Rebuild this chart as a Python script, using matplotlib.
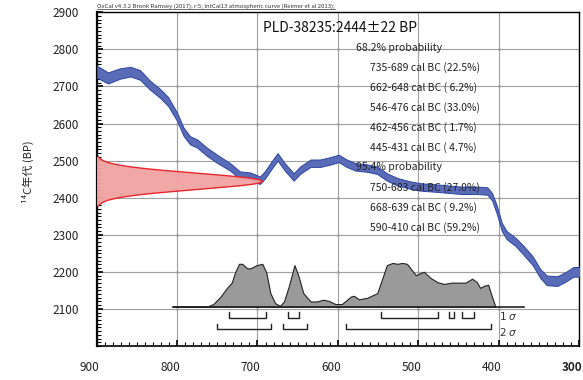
import numpy as np
import matplotlib
matplotlib.use("Agg")
import matplotlib.pyplot as plt
from matplotlib.ticker import MultipleLocator
from matplotlib.transforms import ScaledTranslation
from matplotlib.lines import Line2D

plt.rcParams['font.family'] = ['Noto Sans CJK JP', 'DejaVu Sans']

# --- calibration curve (IntCal13 segment), cal BC vs 14C BP with 1-sigma ---
curve_bc = [900, 886, 871, 858, 846, 834, 821, 811, 800, 792, 784, 775, 763, 751,
            734, 722, 709, 697, 691, 684, 675, 666, 655, 647, 634, 622, 610, 599,
            589, 578, 564, 551, 539, 526, 510, 497, 473, 447, 427, 414, 408, 402,
            396, 390, 379, 369, 358, 348, 340, 327, 317, 307, 298]
curve_bp = [2740, 2723, 2735, 2740, 2731, 2704, 2681, 2659, 2618, 2578, 2555, 2546,
            2524, 2506, 2483, 2461, 2458, 2447, 2461, 2483, 2510, 2483, 2456, 2474,
            2493, 2493, 2499, 2506, 2493, 2483, 2480, 2474, 2456, 2443, 2434, 2429,
            2425, 2420, 2420, 2418, 2402, 2366, 2321, 2299, 2281, 2258, 2231, 2195,
            2177, 2175, 2186, 2200, 2200]
curve_err = [16, 15, 14, 13, 13, 12, 12, 12, 11, 11, 11, 11, 11, 11,
             10, 10, 10, 10, 10, 10, 10, 10, 10, 10, 10, 10, 10, 10,
             10, 10, 10, 10, 10, 10, 10, 10, 10, 10, 10, 10, 10, 11,
             11, 11, 11, 12, 12, 12, 13, 13, 13, 13, 13]

# --- radiocarbon measurement ---
meas_bp = 2444
meas_err = 22

# --- calibrated probability distribution (relative) ---
dist_bc = [805, 763, 755, 746, 738, 732, 728, 723, 719, 713, 709, 701, 694, 689,
           684, 678, 672, 667, 661, 654, 649, 643, 634, 626, 618, 611, 603, 595,
           584, 580, 574, 564, 551, 545, 539, 532, 526, 520, 514, 503, 498, 493,
           485, 476, 468, 458, 449, 441, 433, 427, 423, 418, 413, 409, 404]
dist_prob = [0, 0, 0.06, 0.23, 0.43, 0.55, 0.78, 0.98, 0.98, 0.88, 0.875, 0.95, 0.98,
             0.78, 0.31, 0.08, 0.02, 0.12, 0.47, 0.95, 0.70, 0.31, 0.12, 0.12, 0.16,
             0.13, 0.06, 0.06, 0.23, 0.25, 0.17, 0.20, 0.31, 0.63, 0.95, 1.0, 0.98,
             1.0, 0.98, 0.72, 0.76, 0.8, 0.66, 0.56, 0.52, 0.55, 0.55, 0.55, 0.64,
             0.56, 0.43, 0.48, 0.5, 0.27, 0]
dist_span = (805, 369)

# --- calibrated ranges (from, to, percent) ---
ranges_1s = [(735, 689, 22.5), (662, 648, 6.2), (546, 476, 33.0),
             (462, 456, 1.7), (445, 431, 4.7)]
ranges_2s = [(750, 683, 27.0), (668, 639, 9.2), (590, 410, 59.2)]

header = "OxCal v4.3.2 Bronk Ramsey (2017); r:5; IntCal13 atmospheric curve (Reimer et al 2013);"
x_ticks = [900, 800, 700, 600, 500, 400, 300]
y_ticks = [2100, 2200, 2300, 2400, 2500, 2600, 2700, 2800, 2900]

fig = plt.figure(figsize=(5.83, 3.80), dpi=100)
ax = fig.add_axes([0.1659, 0.0895, 0.8272, 0.8781])
ax.set_xlim(900, 300)
ax.set_ylim(2000, 2900)

# grid and intersection dots
ax.set_xticks(x_ticks)
ax.set_yticks(y_ticks)
ax.grid(True, which='major', color='#a0a0a0', lw=0.8, zorder=0)
gx, gy = np.meshgrid(x_ticks[1:-1], y_ticks[:-1])
ax.plot(gx.ravel(), gy.ravel(), ls='none', marker='s', ms=1.3, color='black', mew=0, zorder=1)

# calibration curve band
cb = np.array(curve_bc, float)
cp = np.array(curve_bp, float)
ce = np.array(curve_err, float)
ax.fill_between(cb, cp - ce, cp + ce, facecolor='#5a6cb8', edgecolor='#2a44a0',
                lw=0.7, zorder=3)

# measurement distribution on the 14C axis
yy = np.linspace(meas_bp - 3 * meas_err, meas_bp + 3 * meas_err, 200)
amp = 206
xx = 900 - amp * np.exp(-0.5 * ((yy - meas_bp) / meas_err) ** 2)
ax.fill_betweenx(yy, 900, xx, facecolor='#f2a2a2', edgecolor='none', alpha=0.95, zorder=4)
ax.plot(xx, yy, color='#e8262a', lw=1.0, zorder=5)

# calibrated distribution
base = 2106
scale = 118
db = np.array(dist_bc, float)
dp = np.array(dist_prob, float)
ax.fill_between(db, base, base + dp * scale, facecolor='#9a9a9a', edgecolor='#222222',
                lw=0.8, zorder=3)
ax.plot(dist_span, [base, base], color='#222222', lw=1.2, zorder=3)

# range brackets
def brackets(ranges, ybar, ytop):
    for a, b, _ in ranges:
        ax.plot([a, a, b, b], [ytop, ybar, ybar, ytop], color='#222222', lw=1.0, zorder=3)

brackets(ranges_1s, 2075, 2091)
brackets(ranges_2s, 2045, 2060)
ax.text(399, 2081, "1 $\\sigma$", fontsize=7.5, va='center', ha='left', color='#333333',
        family=['DejaVu Sans'])
ax.text(399, 2039, "2 $\\sigma$", fontsize=7.5, va='center', ha='left', color='#333333',
        family=['DejaVu Sans'])

# text block
ax.text(693, 2858, f"PLD-38235:{meas_bp}\u00b1{meas_err} BP", fontsize=10, va='center',
        ha='left', color='#111111', zorder=6)
row0 = 2804
dy = 53.7
rows = [("68.2% probability", 577)]
rows += [(f"{a}-{b} cal BC ({p:4.1f}%)", 560) for a, b, p in ranges_1s]
rows += [("95.4% probability", 577)]
rows += [(f"{a}-{b} cal BC ({p:4.1f}%)", 560) for a, b, p in ranges_2s]
for k, (s, xpos) in enumerate(rows):
    ax.text(xpos, row0 - k * dy, s, fontsize=7.5, va='center',
            ha='left', color='#222222', zorder=6)

# axes styling
for s in ['top', 'right']:
    ax.spines[s].set_linewidth(1.0)
ax.spines['left'].set_linewidth(1.6)
ax.spines['bottom'].set_linewidth(1.2)
ax.xaxis.set_minor_locator(MultipleLocator(10))
ax.yaxis.set_minor_locator(MultipleLocator(10))
ax.tick_params(which='both', direction='in', top=False, right=False, colors='black')
ax.tick_params(which='major', length=4, width=1.2)
ax.tick_params(which='minor', length=3, width=0.8)
ax.tick_params(axis='x', which='major', labelsize=8.5, pad=11, labelcolor='#222222')
ax.tick_params(axis='y', which='major', labelsize=8.5, pad=13, labelcolor='#222222')
ax.set_xticklabels([str(v) for v in x_ticks])
ax.set_yticklabels([str(v) for v in y_ticks])
off = ScaledTranslation(-7 / 100, 0, fig.dpi_scale_trans)
for lab in ax.get_xticklabels():
    lab.set_transform(lab.get_transform() + off)
ax.get_xticklabels()[-1].set_fontweight('bold')

fig.text(28 / 583, 1 - 172 / 380, "\u00b9\u2074C年代 (BP)", rotation=90, fontsize=8,
         ha='center', va='center', color='#222222')

hdr = fig.text(97 / 583, 1 - 6.5 / 380, header, fontsize=4.3, ha='left', va='center',
               color='#333333')
fig.canvas.draw()
bb = hdr.get_window_extent()
fig.add_artist(Line2D([bb.x0 / fig.bbox.width, bb.x1 / fig.bbox.width],
                      [bb.y0 / fig.bbox.height, bb.y0 / fig.bbox.height],
                      transform=fig.transFigure, color='#333333', lw=0.5))

fig.savefig("out.png", dpi=100)
